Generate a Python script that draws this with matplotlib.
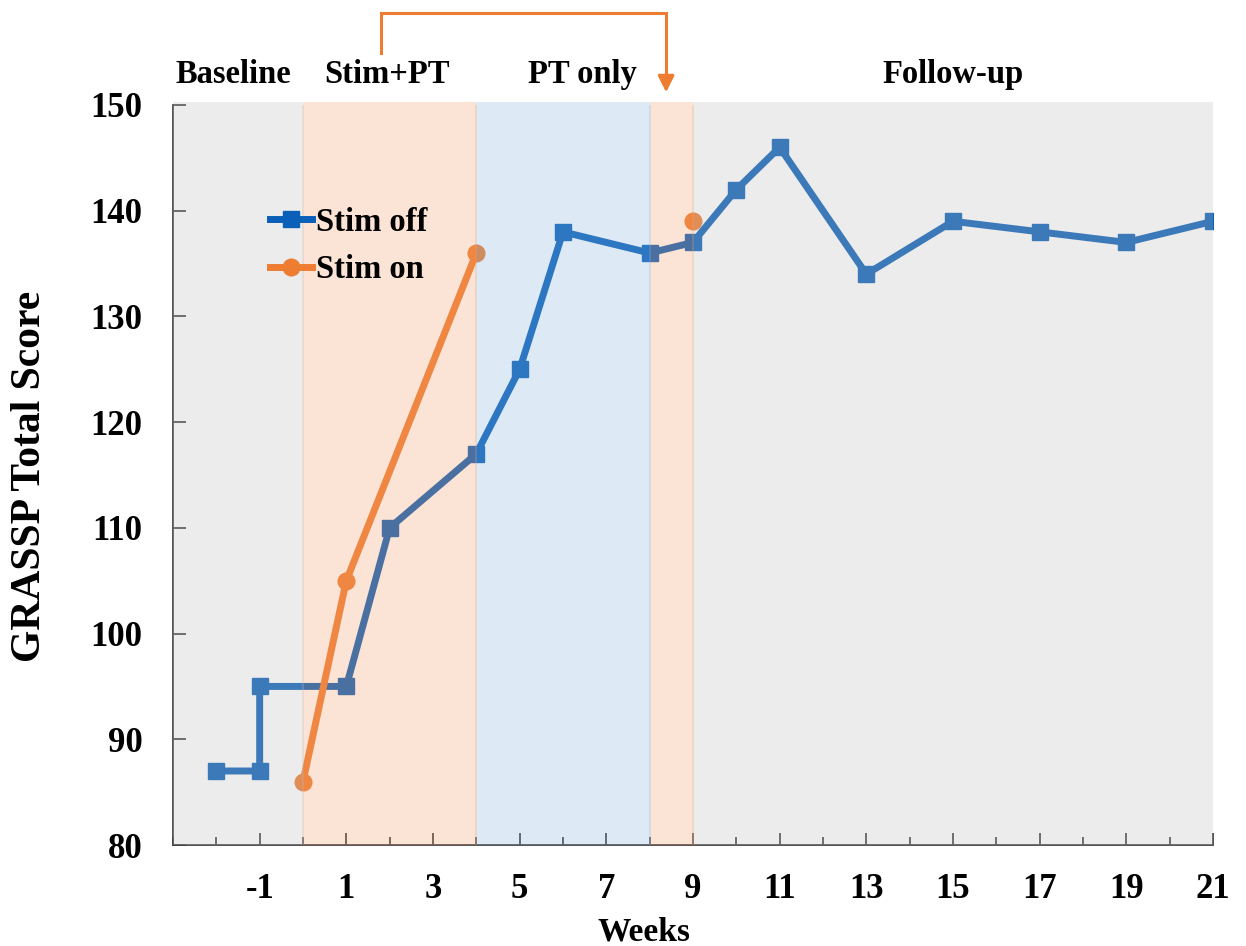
import matplotlib.pyplot as plt
from matplotlib.ticker import FixedLocator, MultipleLocator

plt.rcParams['font.family'] = 'Liberation Serif'
plt.rcParams['font.weight'] = 'bold'

# stim off series (step at week -1)
off_weeks = [-2, -1, -1, 1, 2, 4, 5, 6, 8, 9, 10, 11, 13, 15, 17, 19, 21]
off_score = [87, 87, 95, 95, 110, 117, 125, 138, 136, 137, 142, 146, 134, 139, 138, 137, 139]

# stim on series
on_weeks = [0, 1, 4]
on_score = [86, 105, 136]
on_extra_week = [9]
on_extra_score = [139]

# phases
phase_start = [-3, 0, 4, 8, 9]
phase_end = [0, 4, 8, 9, 21]
phase_color = ['#bdbdbd', '#f39e6c', '#85b4de', '#f39e6c', '#bdbdbd']

phase_names = ['Baseline', 'Stim+PT', 'PT only', 'Follow-up']
phase_name_x = [-1.6, 1.95, 6.45, 15.0]

xticks = [-1, 1, 3, 5, 7, 9, 11, 13, 15, 17, 19, 21]
xticklabels = ['-1', '1', '3', '5', '7', '9', '11', '13', '15', '17', '19', '21']

fig = plt.figure(figsize=(12.46, 9.46), dpi=100)
ax = fig.add_axes([173 / 1246, 1 - 845 / 946, 1040 / 1246, 740 / 946])

blue = '#0a5fb8'
orange = '#ee7d31'

ax.plot(off_weeks, off_score, color=blue, lw=5, marker='s', ms=12, label='Stim off', zorder=2)
ax.plot(on_weeks, on_score, color=orange, lw=5, marker='o', ms=12, label='Stim on', zorder=2)
ax.plot(on_extra_week, on_extra_score, color=orange, lw=0, marker='o', ms=12, zorder=2)

for s, e, c in zip(phase_start, phase_end, phase_color):
    ax.axvspan(s, e, ymax=1.004, color=c, alpha=0.28, lw=0, zorder=3, clip_on=False)
    if e < 21:
        ax.axvline(e, color=c, alpha=0.3, lw=1.2, zorder=3)

ax.set_xlim(-3, 21)
ax.set_ylim(80, 150)
ax.xaxis.set_major_locator(FixedLocator(xticks))
ax.set_xticklabels(xticklabels)
ax.xaxis.set_minor_locator(MultipleLocator(1))
ax.yaxis.set_major_locator(MultipleLocator(10))
ax.tick_params(axis='both', which='major', direction='in', length=9, width=1.2,
               labelsize=25, color='#333333')
ax.tick_params(axis='x', which='minor', direction='in', length=6, width=1.2, color='#333333')
ax.tick_params(axis='x', which='major', pad=20)
ax.tick_params(axis='y', which='major', pad=22)
for lab in ax.get_xticklabels() + ax.get_yticklabels():
    lab.set_fontweight('bold')

ax.spines['top'].set_visible(False)
ax.spines['right'].set_visible(False)
for side in ['left', 'bottom']:
    ax.spines[side].set_color('#444444')
    ax.spines[side].set_linewidth(1.3)

fig.text(644 / 1246, 1 - 932 / 946, 'Weeks', ha='center', va='center',
         fontsize=24, fontweight='bold')
fig.text(30 / 1246, 1 - 476 / 946, 'GRASSP Total Score', ha='center', va='center',
         rotation=90, fontsize=30, fontweight='bold')

for name, x in zip(phase_names, phase_name_x):
    ax.text(x, 152.9, name, ha='center', va='center', fontsize=23.5, fontweight='bold')

# bracket arrow over the top
ax.plot([1.81, 1.81, 8.38, 8.38], [154.9, 158.7, 158.7, 152.3], color=orange, lw=2.2,
        clip_on=False, solid_joinstyle='miter')
ax.annotate('', xy=(8.38, 151.2), xytext=(8.38, 152.8), annotation_clip=False,
            arrowprops=dict(arrowstyle='-|>,head_length=0.7,head_width=0.35',
                            color=orange, lw=2.2, mutation_scale=14,
                            shrinkA=0, shrinkB=0))

ax.legend(loc='center left', bbox_to_anchor=(270 / 1246, 1 - 246 / 946),
          bbox_transform=fig.transFigure, frameon=False,
          prop={'weight': 'bold', 'size': 23.5}, handlelength=1.3,
          handletextpad=0.1, labelspacing=0.5, borderpad=0, borderaxespad=0)

fig.savefig('out.png', dpi=100)
